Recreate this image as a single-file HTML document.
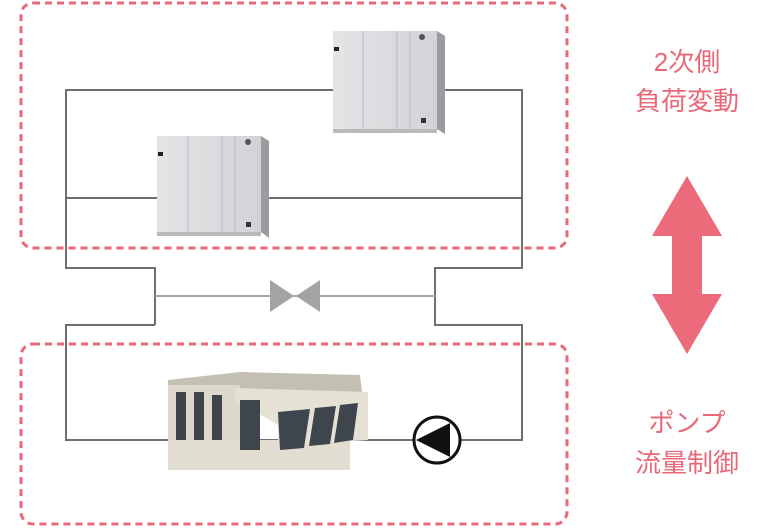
<!DOCTYPE html>
<html><head><meta charset="utf-8"><style>
html,body{margin:0;padding:0;background:#fff;width:760px;height:528px;overflow:hidden}
svg{display:block}
text{font-family:"Liberation Sans","Noto Sans CJK JP",sans-serif;fill:#e96878;font-size:26px}
</style></head><body>
<svg width="760" height="528" viewBox="0 0 760 528">
<defs>
<linearGradient id="cab" x1="0" x2="1"><stop offset="0" stop-color="#e4e5e7"/><stop offset="1" stop-color="#d2d3d6"/></linearGradient>
</defs>
<g stroke="#6f6f6f" stroke-width="2" fill="none">
<polyline points="155,325 66,325 66,440 522,440 522,325 435,325 435,268 522,268 522,90 66,90 66,268 155,268 155,325"/>
<line x1="66" y1="198" x2="522" y2="198"/>
</g>
<line x1="155" y1="296" x2="435" y2="296" stroke="#a8a8a8" stroke-width="2"/>
<polygon points="270,280 270,312 294,296" fill="#a3a3a3"/>
<polygon points="320,280 320,312 296,296" fill="#a3a3a3"/>
<rect x="21" y="3" width="546" height="245" rx="12" fill="none" stroke="#e8697a" stroke-width="3" stroke-dasharray="7,5"/>
<rect x="21" y="344" width="546" height="180" rx="12" fill="none" stroke="#e8697a" stroke-width="3" stroke-dasharray="7,5"/>
<g>
<rect x="333" y="31" width="104" height="98" fill="url(#cab)"/>
<polygon points="437,31 445,36 445,134 437,129" fill="#9a9ca0"/>
<rect x="333" y="129" width="104" height="4" fill="#b9babd"/>
<line x1="363" y1="31" x2="363" y2="129" stroke="#b8b9bc"/>
<line x1="397" y1="31" x2="397" y2="129" stroke="#b8b9bc"/>
<line x1="410" y1="31" x2="410" y2="129" stroke="#b8b9bc"/>
<rect x="334" y="47" width="5" height="4" fill="#222"/>
<circle cx="422" cy="37" r="3" fill="#555"/>
<rect x="421" y="118" width="5" height="5" fill="#333"/>
</g>
<g>
<rect x="157" y="136" width="104" height="96" fill="url(#cab)"/>
<polygon points="261,136 269,141 269,238 261,232" fill="#9a9ca0"/>
<rect x="157" y="232" width="104" height="4" fill="#b9babd"/>
<line x1="188" y1="136" x2="188" y2="232" stroke="#b8b9bc"/>
<line x1="222" y1="136" x2="222" y2="232" stroke="#b8b9bc"/>
<line x1="235" y1="136" x2="235" y2="232" stroke="#b8b9bc"/>
<rect x="158" y="152" width="5" height="4" fill="#222"/>
<circle cx="248" cy="142" r="3" fill="#555"/>
<rect x="246" y="222" width="5" height="5" fill="#333"/>
</g>
<!-- chiller -->
<g>
<polygon points="168,380 240,372 360,375 362,392 240,392 168,388" fill="#c4bfb3"/>
<rect x="168" y="385" width="72" height="70" fill="#ddd8cc"/>
<rect x="176" y="392" width="10" height="50" fill="#3f444a"/>
<rect x="194" y="392" width="10" height="50" fill="#3f444a"/>
<rect x="212" y="395" width="10" height="50" fill="#3f444a"/>
<rect x="168" y="440" width="182" height="30" fill="#e2ddd1"/>
<polygon points="235,388 368,392 368,440 278,446 278,425 235,400" fill="#e6e1d5"/>
<polygon points="278,412 310,409 304,448 280,450" fill="#3f454c"/>
<polygon points="315,408 336,406 330,444 309,446" fill="#3f454c"/>
<polygon points="340,405 358,403 353,440 334,443" fill="#3f454c"/>
<rect x="240" y="400" width="20" height="50" fill="#3f454c"/>
</g>
<circle cx="437" cy="440" r="23" fill="#fff" stroke="#111" stroke-width="3"/>
<polygon points="416,440 450,423 450,457" fill="#111"/>
<polygon points="687,176 722,236 702,236 702,294 722,294 687,354 652,294 672,294 672,236 652,236" fill="#ec6b7b"/>
<text x="687" y="71" text-anchor="middle">2次側</text>
<text x="687" y="110" text-anchor="middle">負荷変動</text>
<text x="687" y="432" text-anchor="middle">ポンプ</text>
<text x="687" y="472" text-anchor="middle">流量制御</text>
</svg>
</body></html>
